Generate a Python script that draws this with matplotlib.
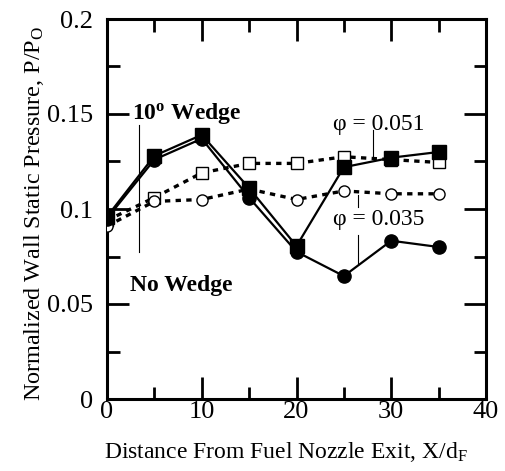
import matplotlib
matplotlib.use("Agg")
import matplotlib.pyplot as plt
from matplotlib.ticker import MultipleLocator

plt.rcParams['font.family'] = ['Liberation Serif', 'DejaVu Serif']
plt.rcParams['mathtext.fontset'] = 'stix'
plt.rcParams['mathtext.default'] = 'regular'

x = [0, 5, 10, 15, 20, 25, 30, 35]
wedge_051 = [0.096, 0.128, 0.139, 0.111, 0.0805, 0.122, 0.127, 0.130]
wedge_035 = [0.095, 0.126, 0.137, 0.106, 0.0775, 0.0647, 0.0833, 0.080]
nowedge_051 = [0.094, 0.106, 0.119, 0.124, 0.124, 0.1275, 0.126, 0.1245]
nowedge_035 = [0.091, 0.104, 0.105, 0.1105, 0.105, 0.1095, 0.108, 0.108]

fig = plt.figure(figsize=(5.05, 4.71), dpi=100)
ax = fig.add_axes([107/505, 1-399/471, 379/505, 380/471])

dash = (0, (1.6, 1.6))
ax.plot(x, nowedge_051, color='black', lw=2.4, linestyle=dash, marker='s', ms=8,
        mfc='white', mec='black', mew=1.0, zorder=3)
ax.plot(x, nowedge_035, color='black', lw=2.4, linestyle=dash, marker='o', ms=8,
        mfc='white', mec='black', mew=1.0, zorder=3)
ax.plot(x, wedge_051, color='black', lw=1.6, marker='s', ms=9.5,
        mfc='black', mec='black', zorder=4)
ax.plot(x, wedge_035, color='black', lw=1.6, marker='o', ms=9.5,
        mfc='black', mec='black', zorder=4)

# pointer lines
ax.plot([3.4, 3.4], [0.144, 0.0774], color='black', lw=0.8, zorder=2)
ax.plot([28.1, 28.1], [0.1416, 0.1268], color='black', lw=0.8, zorder=2)
ax.plot([26.5, 26.5], [0.1074, 0.1012], color='black', lw=0.8, zorder=2)
ax.plot([26.5, 26.5], [0.0863, 0.0714], color='black', lw=0.8, zorder=2)

ax.text(2.6, 0.150, '10$^{\\mathregular{o}}$ Wedge', fontsize=17, fontweight='bold',
        ha='left', va='center')
ax.text(2.4, 0.0600, 'No Wedge', fontsize=17, fontweight='bold', ha='left', va='center')
ax.text(23.8, 0.1445, '\u03c6 = 0.051', fontsize=17, ha='left', va='center')
ax.text(23.8, 0.0945, '\u03c6 = 0.035', fontsize=17, ha='left', va='center')

ax.set_xlim(0, 40)
ax.set_ylim(0, 0.2)
ax.xaxis.set_minor_locator(MultipleLocator(5))
ax.yaxis.set_minor_locator(MultipleLocator(0.025))
ax.set_xticks([0, 10, 20, 30, 40])
ax.set_xticklabels(['0', '10', '20', '30', '40'])
ax.set_yticks([0, 0.05, 0.1, 0.15, 0.2])
ax.set_yticklabels(['0', '0.05', '0.1', '0.15', '0.2'])
ax.tick_params(which='both', direction='in', top=True, right=True, width=2,
               labelsize=19)
ax.tick_params(axis='y', pad=10)
ax.tick_params(axis='x', pad=1.5)
ax.tick_params(which='major', length=16)
ax.tick_params(which='minor', length=9)
for s in ax.spines.values():
    s.set_linewidth(2.2)

ax.set_xlabel('Distance From Fuel Nozzle Exit, X/d$_\\mathregular{F}$', fontsize=17, labelpad=12)
ax.set_ylabel('Normalized Wall Static Pressure, P/P$_\\mathregular{O}$', fontsize=17.4)
ax.xaxis.label.set_x(0.472)
ax.yaxis.set_label_coords(-0.162, 0.487)

fig.savefig('out.png', dpi=100)
